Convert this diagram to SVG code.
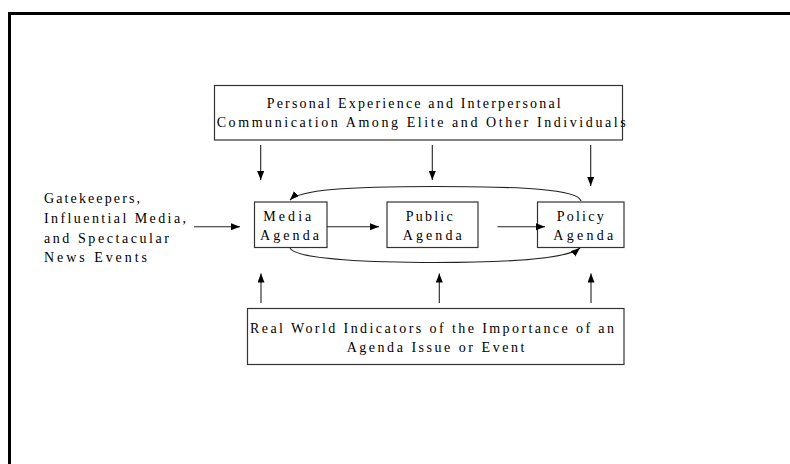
<svg xmlns="http://www.w3.org/2000/svg" width="790" height="464" viewBox="0 0 790 464">
<style>
.box{fill:#fff;stroke:#333;stroke-width:1.2}
.t{font-family:"Liberation Serif","Times New Roman",serif;font-size:14px;fill:#000}
.ln{fill:none;stroke:#222;stroke-width:1.1}
</style>
<defs>
<marker id="ah" markerUnits="userSpaceOnUse" markerWidth="10" markerHeight="8" refX="9" refY="3.5" orient="auto">
<path d="M0,0 L9,3.5 L0,7 z" fill="#000"/>
</marker>
</defs>
<g id="frame">
<path d="M9.5,464 V13.5 H790" fill="none" stroke="#000" stroke-width="3"/>
</g>
<g id="personal">
<rect class="box" x="214.5" y="85.5" width="408" height="54.5"/>
<text class="t" x="266.7" y="108" textLength="294" lengthAdjust="spacing">Personal Experience and Interpersonal</text>
<text class="t" x="216.7" y="127" textLength="409" lengthAdjust="spacing">Communication Among Elite and Other Individuals</text>
</g>
<g id="gatekeepers">
<text class="t" x="44" y="203" textLength="96" lengthAdjust="spacing">Gatekeepers,</text>
<text class="t" x="44" y="223" textLength="142" lengthAdjust="spacing">Influential Media,</text>
<text class="t" x="44" y="242.5" textLength="125" lengthAdjust="spacing">and Spectacular</text>
<text class="t" x="44" y="262" textLength="103" lengthAdjust="spacing">News Events</text>
</g>
<g id="media">
<rect class="box" x="254.5" y="202" width="72.5" height="45.5"/>
<text class="t" x="263.3" y="221" textLength="48" lengthAdjust="spacing">Media</text>
<text class="t" x="260" y="240" textLength="59" lengthAdjust="spacing">Agenda</text>
</g>
<g id="public">
<rect class="box" x="387" y="202" width="91" height="45.5"/>
<text class="t" x="405.7" y="221" textLength="47" lengthAdjust="spacing">Public</text>
<text class="t" x="402.7" y="240" textLength="59" lengthAdjust="spacing">Agenda</text>
</g>
<g id="policy">
<rect class="box" x="537.5" y="202" width="86.5" height="45.5"/>
<text class="t" x="556.7" y="221" textLength="47" lengthAdjust="spacing">Policy</text>
<text class="t" x="553.3" y="240" textLength="60" lengthAdjust="spacing">Agenda</text>
</g>
<g id="realworld">
<rect class="box" x="247.5" y="308.5" width="376.5" height="56"/>
<text class="t" x="250" y="333" textLength="364" lengthAdjust="spacing">Real World Indicators of the Importance of an</text>
<text class="t" x="346.7" y="352" textLength="177.6" lengthAdjust="spacing">Agenda Issue or Event</text>
</g>
<g id="connectors">
<path class="ln" d="M260.7,145 V180" marker-end="url(#ah)"/>
<path class="ln" d="M432.3,145 V180" marker-end="url(#ah)"/>
<path class="ln" d="M590.7,145 V186" marker-end="url(#ah)"/>
<path class="ln" d="M194,226.7 H240" marker-end="url(#ah)"/>
<path class="ln" d="M327,226.7 H379" marker-end="url(#ah)"/>
<path class="ln" d="M497.5,226.7 H545" marker-end="url(#ah)"/>
<path class="ln" d="M581,201 C578,189 520,186.5 435,186.5 C345,186.5 300,190 290,200" marker-end="url(#ah)"/>
<path class="ln" d="M290,248 C295,260 380,262.5 435,262.5 C520,262.5 568,258 580,248" marker-end="url(#ah)"/>
<path class="ln" d="M261,303 V273.5" marker-end="url(#ah)"/>
<path class="ln" d="M439.3,303 V273.5" marker-end="url(#ah)"/>
<path class="ln" d="M591,303 V273.5" marker-end="url(#ah)"/>
</g>
</svg>
